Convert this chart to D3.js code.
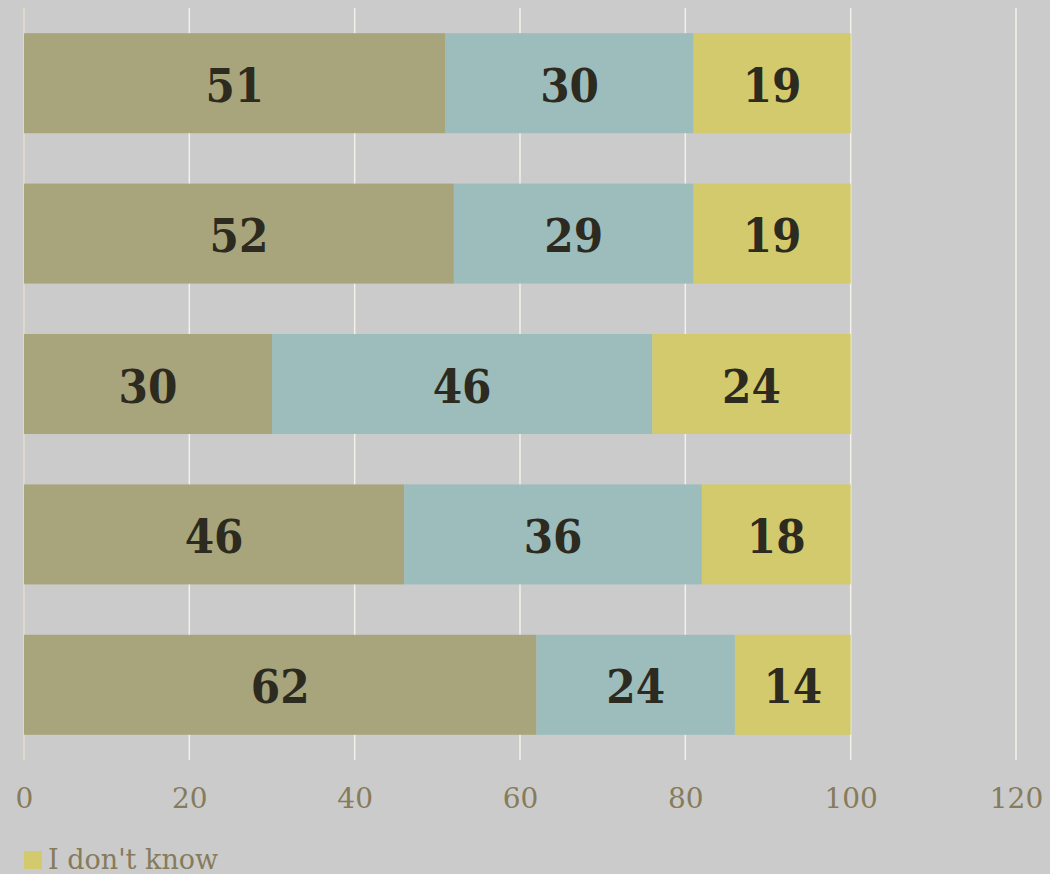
<!DOCTYPE html>
<html>
<head>
<meta charset="utf-8">
<script src="https://cdn.jsdelivr.net/npm/d3@7"></script>
<style>
  html, body { margin: 0; padding: 0; background: #cbcbcb; }
  svg { display: block; }
</style>
</head>
<body>
<svg id="chart" width="1050" height="874"></svg>
<script>
const categories = ["Row 1", "Row 2", "Row 3", "Row 4", "Row 5"];
const seriesNames = ["Yes", "No", "I don't know"];
const yesValues = [51, 52, 30, 46, 62];
const noValues = [30, 29, 46, 36, 24];
const dontKnowValues = [19, 19, 24, 18, 14];
const xTicks = [0, 20, 40, 60, 80, 100, 120];
const colors = ["#a8a57c", "#9dbdbd", "#d2ca6c"];

const rows = categories.map((c, i) => ({
  cat: c, "Yes": yesValues[i], "No": noValues[i], "I don't know": dontKnowValues[i]
}));
const stacked = d3.stack().keys(seriesNames)(rows);

const svg = d3.select("#chart");
const x = d3.scaleLinear().domain([0, 120]).range([24, 1016]);
const y = d3.scaleBand().domain(categories).range([8, 760])
  .paddingInner(0.335).paddingOuter(0.1675);

// background
svg.append("rect").attr("width", 1050).attr("height", 874).attr("fill", "#cbcbcb");

// gridlines
svg.append("g").selectAll("line").data(xTicks).join("line")
  .attr("x1", d => x(d)).attr("x2", d => x(d))
  .attr("y1", 8).attr("y2", 760)
  .attr("stroke", d => d === 0 ? "#e2dccb" : "#f3f1ea")
  .attr("stroke-width", 1.5);

// bars
const layers = svg.append("g").selectAll("g").data(stacked).join("g")
  .attr("fill", (d, i) => colors[i]);
layers.selectAll("rect").data(d => d).join("rect")
  .attr("x", d => x(d[0]))
  .attr("width", d => x(d[1]) - x(d[0]))
  .attr("y", d => y(d.data.cat))
  .attr("height", y.bandwidth());

// labels
const labelG = svg.append("g");
stacked.forEach(layer => {
  labelG.selectAll(null).data(layer).join("text")
    .attr("x", d => (x(d[0]) + x(d[1])) / 2)
    .attr("y", d => y(d.data.cat) + y.bandwidth() / 2 + 2)
    .attr("text-anchor", "middle")
    .attr("dominant-baseline", "central")
    .attr("font-family", "'DejaVu Serif Condensed', 'DejaVu Serif', serif")
    .attr("font-weight", "bold")
    .attr("font-size", 47)
    .attr("fill", "#2d2a20")
    .text(d => d[1] - d[0]);
});

// x axis
const axis = d3.axisBottom(x).tickValues(xTicks).tickSize(0).tickPadding(0);
const ax = svg.append("g").attr("transform", "translate(0,786)").call(axis);
ax.select(".domain").remove();
ax.selectAll("text")
  .attr("font-family", "'DejaVu Serif', serif")
  .attr("font-size", 28)
  .attr("fill", "#867b5a")
  .attr("dy", "0.71em")
  .attr("y", 2);

// legend (only last item visible)
const leg = svg.append("g").attr("transform", "translate(24,851)");
leg.append("rect").attr("width", 18).attr("height", 18).attr("fill", colors[2]);
leg.append("text").attr("x", 24).attr("y", 18)
  .attr("font-family", "'DejaVu Serif', serif")
  .attr("font-size", 27)
  .attr("fill", "#867b5a")
  .text(seriesNames[2]);
</script>
</body>
</html>
